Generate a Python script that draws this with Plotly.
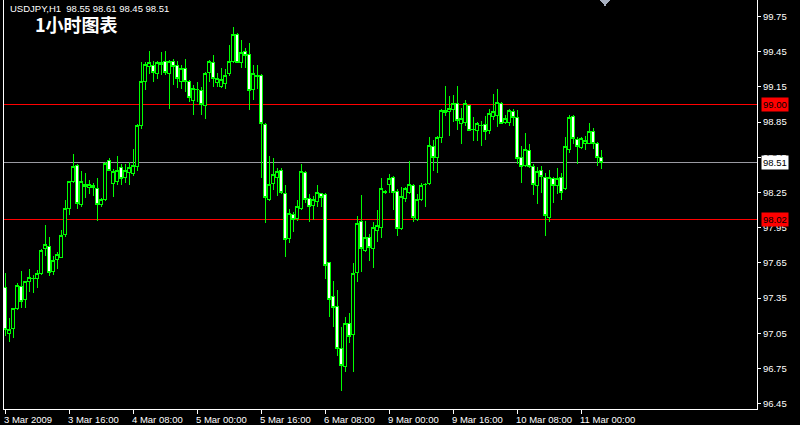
import plotly.graph_objects as go

bar_index = list(range(150))

open_ = [97.44,97.05,97.09,97.26,97.45,97.34,97.49,97.52,97.52,97.56,
97.77,97.79,97.58,97.68,97.70,97.89,98.11,98.34,98.48,98.15,
98.32,98.29,98.29,98.28,98.15,98.19,98.52,98.33,98.34,98.46,
98.38,98.42,98.41,98.47,98.82,99.20,99.32,99.33,99.26,99.34,
99.37,99.26,99.37,99.33,99.20,99.31,99.20,99.03,99.13,99.12,
98.99,99.27,99.36,99.19,99.15,99.18,99.26,99.37,99.60,99.36,
99.45,99.43,99.13,99.25,99.25,98.83,98.19,98.33,98.38,98.44,
98.24,97.86,98.06,98.03,98.11,98.42,98.20,98.14,98.17,98.24,
98.23,97.65,97.36,97.28,96.92,96.77,97.13,97.04,97.57,98.00,
97.76,97.87,97.77,97.93,97.95,98.26,98.32,98.38,98.26,97.94,
98.20,98.25,98.31,98.02,98.19,98.32,98.33,98.64,98.55,98.72,
98.93,98.94,98.96,99.01,98.84,98.85,98.99,98.79,98.78,98.82,
98.83,98.78,98.90,98.91,99.01,98.85,98.85,98.94,98.89,98.55,
98.48,98.61,98.47,98.31,98.44,98.38,98.04,98.37,98.31,98.38,
98.28,98.62,98.90,98.70,98.63,98.67,98.67,98.77,98.67,98.55]

high = [97.56,97.18,97.27,97.48,97.58,97.50,97.60,97.55,97.59,97.77,
97.97,97.87,97.71,97.74,97.93,98.19,98.35,98.58,98.49,98.43,
98.42,98.36,98.33,98.37,98.20,98.51,98.54,98.45,98.56,98.49,
98.49,98.51,98.62,98.83,99.36,99.36,99.46,99.37,99.37,99.45,
99.46,99.38,99.39,99.37,99.34,99.39,99.21,99.17,99.19,99.15,
99.28,99.38,99.42,99.27,99.31,99.30,99.51,99.66,99.61,99.55,
99.48,99.52,99.34,99.34,99.26,98.84,98.56,98.54,98.46,98.46,
98.31,98.11,98.08,98.19,98.49,98.43,98.24,98.22,98.31,98.25,
98.25,97.66,97.50,97.42,97.10,97.19,97.22,97.65,98.05,98.23,
98.01,97.90,98.00,98.10,98.37,98.27,98.41,98.39,98.28,98.30,
98.30,98.52,98.32,98.24,98.33,98.33,98.72,98.70,98.73,98.96,
99.16,99.07,99.08,99.16,98.97,99.04,99.00,98.89,98.85,98.86,
98.90,98.96,99.09,99.13,99.02,98.91,98.96,98.96,98.95,98.65,
98.76,98.66,98.49,98.47,98.48,98.42,98.44,98.38,98.46,98.42,
98.72,98.91,98.91,98.72,98.72,98.73,98.84,98.80,98.68,98.61]

low = [97.03,96.98,97.01,97.25,97.27,97.27,97.40,97.39,97.44,97.55,
97.71,97.54,97.55,97.60,97.69,97.87,98.06,98.33,98.11,98.13,
98.20,98.24,98.22,98.01,98.13,98.18,98.43,98.21,98.31,98.31,
98.33,98.31,98.39,98.43,98.79,99.12,99.26,99.19,99.22,99.25,
99.25,98.96,99.17,99.14,99.13,99.11,99.02,98.91,99.02,98.91,
98.88,99.19,99.15,99.15,99.14,99.13,99.24,99.35,99.35,99.31,
99.31,98.95,99.04,99.13,98.37,97.99,98.18,98.27,98.22,98.24,
97.70,97.82,97.91,98.01,98.10,98.16,98.00,98.02,98.13,98.13,
97.51,97.19,97.10,96.86,96.56,96.72,96.97,96.72,97.49,97.57,
97.74,97.67,97.61,97.83,97.86,98.24,98.25,98.10,97.88,97.93,
98.17,98.24,98.00,98.01,98.18,98.13,98.31,98.43,98.42,98.67,
98.90,98.73,98.85,98.78,98.66,98.82,98.77,98.69,98.69,98.65,
98.70,98.75,98.87,98.81,98.83,98.83,98.82,98.82,98.49,98.33,
98.47,98.46,98.23,98.15,98.25,97.88,98.00,98.16,98.24,98.19,
98.27,98.59,98.66,98.49,98.62,98.61,98.66,98.62,98.48,98.45]

close = [97.08,97.08,97.26,97.46,97.32,97.49,97.53,97.52,97.56,97.76,
97.81,97.57,97.67,97.72,97.88,98.11,98.34,98.47,98.16,98.34,
98.30,98.32,98.31,98.15,98.19,98.50,98.44,98.43,98.44,98.37,
98.44,98.46,98.48,98.82,99.20,99.34,99.36,99.27,99.36,99.36,
99.27,99.37,99.32,99.22,99.31,99.20,99.06,99.14,99.13,99.00,
99.26,99.37,99.22,99.22,99.21,99.25,99.37,99.60,99.36,99.44,
99.42,99.12,99.26,99.24,98.84,98.21,98.32,98.40,98.43,98.25,
97.85,98.07,98.02,98.13,98.43,98.19,98.13,98.19,98.25,98.21,
97.63,97.34,97.27,96.92,96.78,97.13,97.02,97.56,97.99,97.77,
97.87,97.78,97.95,97.97,98.28,98.25,98.37,98.25,97.94,98.22,
98.28,98.32,98.04,98.19,98.31,98.32,98.65,98.55,98.72,98.95,
98.95,98.97,99.01,98.86,98.88,99.01,98.78,98.79,98.84,98.82,
98.77,98.92,98.94,99.02,98.84,98.88,98.95,98.89,98.54,98.47,
98.62,98.47,98.32,98.43,98.39,98.05,98.38,98.31,98.37,98.25,
98.64,98.89,98.71,98.64,98.71,98.69,98.77,98.67,98.55,98.51]

time_tick_pos = [0, 16, 32, 48, 64, 80, 96, 112, 128, 144]
time_tick_text = ["3 Mar 2009", "3 Mar 16:00", "4 Mar 08:00", "5 Mar 00:00", "5 Mar 16:00",
                  "6 Mar 08:00", "9 Mar 00:00", "9 Mar 16:00", "10 Mar 08:00", "11 Mar 00:00"]
price_ticks = [99.75, 99.45, 99.15, 98.85, 98.55, 98.25, 97.95, 97.65, 97.35, 97.05, 96.75, 96.45]

red_levels = [99.00, 98.02]
bid_level = 98.51

header = "USDJPY,H1  98.55 98.61 98.45 98.51"
title_cn = "1小时图表"

FONT = "Liberation Sans"

fig = go.Figure()
fig.add_trace(go.Candlestick(
    x=bar_index, open=open_, high=high, low=low, close=close,
    increasing=dict(line=dict(color="#00FF00", width=1), fillcolor="#000000"),
    decreasing=dict(line=dict(color="#00FF00", width=1), fillcolor="#FFFFFF"),
    whiskerwidth=0, hoverinfo="skip", showlegend=False,
))

shapes = []
for lv in red_levels:
    shapes.append(dict(type="line", xref="paper", x0=0, x1=1, yref="y", y0=lv, y1=lv,
                       line=dict(color="#FF0000", width=1), layer="below"))
shapes.append(dict(type="line", xref="paper", x0=0, x1=1, yref="y", y0=bid_level, y1=bid_level,
                   line=dict(color="#9a9aa2", width=1), layer="below"))
shapes.append(dict(type="path", xref="x", yref="paper",
                   path="M 148.6 1 L 151.4 1 L 150 0.985 Z",
                   fillcolor="#a8b0c0", line=dict(width=0)))

annotations = []
for pos, txt in zip(time_tick_pos, time_tick_text):
    annotations.append(dict(x=pos, xref="x", y=0, yref="paper", yanchor="top", xanchor="left",
                            xshift=-3, yshift=-3, text=txt, showarrow=False,
                            font=dict(family=FONT, size=9.5, color="white")))
for lv in red_levels:
    annotations.append(dict(x=1, xref="paper", y=lv, yref="y", xanchor="left", yanchor="middle",
                            xshift=4, text=f"{lv:.2f}", showarrow=False, bgcolor="#FF0000",
                            borderpad=1, font=dict(family=FONT, size=9.5, color="#000000")))
annotations.append(dict(x=1, xref="paper", y=bid_level, yref="y", xanchor="left", yanchor="middle",
                        xshift=4, text=f"{bid_level:.2f}", showarrow=False, bgcolor="#FFFFFF",
                        borderpad=1, font=dict(family=FONT, size=9.5, color="#000000")))
annotations.append(dict(x=0, xref="paper", y=1, yref="paper", xanchor="left", yanchor="top",
                        xshift=4, yshift=-1, text=header, showarrow=False,
                        font=dict(family=FONT, size=9.5, color="white")))
annotations.append(dict(x=0, xref="paper", y=1, yref="paper", xanchor="left", yanchor="top",
                        xshift=29, yshift=-9, text=f"<b>{title_cn}</b>", showarrow=False,
                        font=dict(family="Noto Sans CJK SC", size=18, color="white")))

fig.update_layout(
    width=800, height=425,
    margin=dict(l=4, r=43, t=0, b=16),
    paper_bgcolor="#000000", plot_bgcolor="#000000",
    boxgap=0.15, boxgroupgap=0,
    shapes=shapes, annotations=annotations,
    xaxis=dict(range=[-0.25, 188], showgrid=False, zeroline=False, rangeslider=dict(visible=False),
               tickmode="array", tickvals=time_tick_pos, showticklabels=False,
               ticks="outside", ticklen=4, tickcolor="white", tickwidth=1,
               showline=True, linecolor="white", linewidth=1),
    yaxis=dict(range=[96.4052, 99.8905], side="right", showgrid=False, zeroline=False,
               tickmode="array", tickvals=price_ticks, ticktext=[f"{v:.2f}" for v in price_ticks],
               ticks="outside", ticklen=3, tickcolor="white", tickwidth=1,
               tickfont=dict(family=FONT, size=9.5, color="white"),
               showline=True, linecolor="white", linewidth=1, mirror=True),
)

crisp_js = (
    "document.body.style.margin='0';document.body.style.background='#000';"
    "document.querySelectorAll('.shapelayer path, .trace.boxes path').forEach(function(p){"
    "p.style.shapeRendering='crispEdges';});"
)
fig.write_html("out.html", config={"displayModeBar": False}, post_script=crisp_js)
